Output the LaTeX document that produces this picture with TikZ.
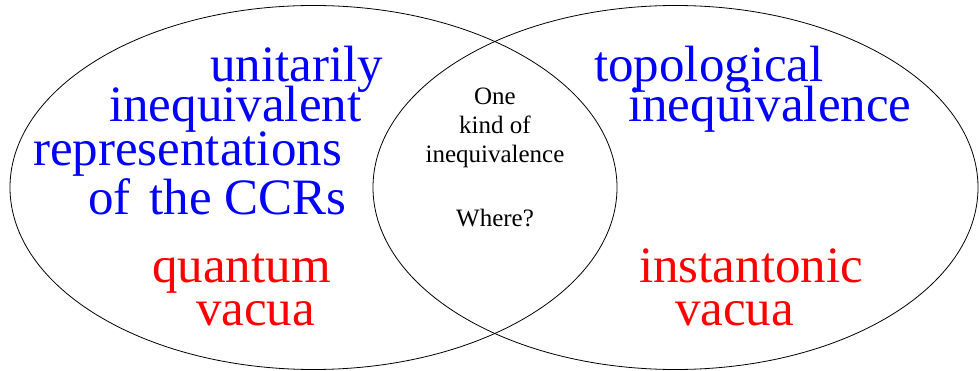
\documentclass[tikz,border=0pt]{standalone}
\usepackage{fontspec}
\setmainfont{Liberation Serif}
\definecolor{tblue}{RGB}{0,0,255}
\definecolor{tred}{RGB}{255,0,0}
\begin{document}
\begin{tikzpicture}[x=1pt,y=-1pt,
  big/.style={font=\fontsize{51}{51}\selectfont, inner sep=0pt, anchor=base west, text depth=0pt},
  bluetxt/.style={big, text=tblue},
  redtxt/.style={big, text=tred},
  small/.style={font=\fontsize{25}{25}\selectfont, inner sep=0pt, anchor=base, text=black, text depth=0pt},
  venn/.style={draw=black, line width=0.8pt}]
\useasboundingbox (0,0) rectangle (979,371);
\draw[venn] (313.5,187.5) ellipse [x radius=303.5, y radius=182];
\draw[venn] (675.5,187.5) ellipse [x radius=302.5, y radius=182];
\node[bluetxt] (u1) at (210,82) {unitarily};
\node[bluetxt] (u2) at (109,122) {inequivalent};
\node[bluetxt] (u3) at (33,166) {representations};
\node[bluetxt] (u4) at (88,215) {of\kern6pt\ the CCRs};
\node[redtxt] (q1) at (152,282) {quantum};
\node[redtxt] (q2) at (196,325) {vacua};
\node[bluetxt] (t1) at (594,82) {topological};
\node[bluetxt] (t2) at (628,122) {inequivalence};
\node[redtxt] (i1) at (639,283) {instantonic};
\node[redtxt] (i2) at (675,325) {vacua};
\node[small] (m1) at (495,105) {One};
\node[small] (m2) at (495,134) {kind of};
\node[small] (m3) at (495,163) {inequivalence};
\node[small] (m4) at (495,227) {Where?};
\end{tikzpicture}
\end{document}
